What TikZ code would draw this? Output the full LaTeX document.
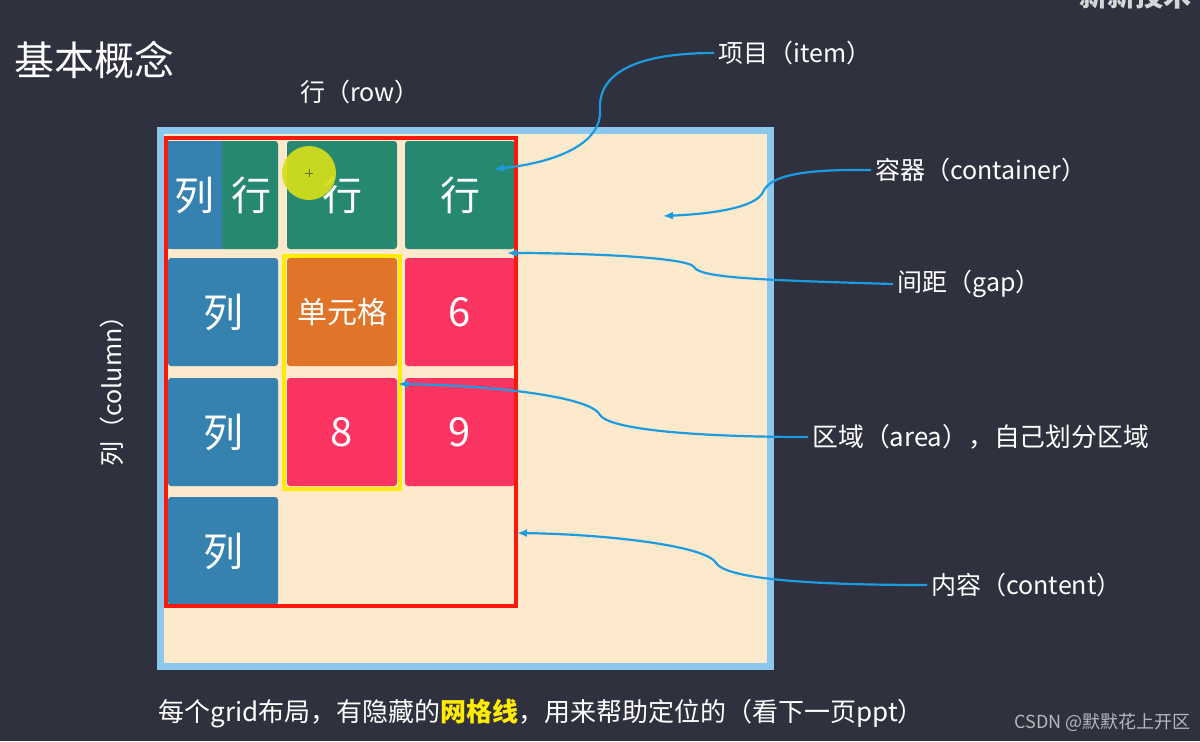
\documentclass[tikz,border=0pt]{standalone}
\usepackage{fontspec}
\setmainfont{Noto Sans CJK SC}
\usetikzlibrary{arrows.meta}

\definecolor{slide}{RGB}{47,49,62}
\definecolor{colblue}{RGB}{53,129,176}
\definecolor{rowgreen}{RGB}{39,136,114}
\definecolor{cellorange}{RGB}{224,116,40}
\definecolor{cellpink}{RGB}{252,52,98}
\definecolor{peach}{RGB}{253,233,204}
\definecolor{frameblue}{RGB}{140,200,238}
\definecolor{contentred}{RGB}{250,25,10}
\definecolor{areayellow}{RGB}{255,236,0}
\definecolor{arrowblue}{RGB}{28,156,224}
\definecolor{pointer}{RGB}{214,222,24}

\begin{document}
\begin{tikzpicture}[
  x=.5pt,
  y=-.5pt,
  grid cell/.style={
    minimum width=55pt,
    minimum height=54pt,
    inner sep=0pt,
    rounded corners=1.5pt,
    text=white,
    font=\fontsize{20pt}{20pt}\selectfont
  },
  cell text/.style={
    inner sep=0pt,
    text=white,
    font=\fontsize{20pt}{20pt}\selectfont
  },
  callout/.style={
    anchor=west,
    inner sep=2pt,
    text=white,
    font=\fontsize{12.5pt}{14pt}\selectfont
  },
  callout arrow/.style={
    draw=arrowblue,
    line width=1.1pt,
    -{Latex[length=5pt,width=4pt]}
  },
]
\useasboundingbox (0,0) rectangle (1200,741);
\fill[slide] (0,0) rectangle (1200,741);
\begin{scope}
\clip (0,0) rectangle (1200,741);
\node[anchor=base west, text=white!80!slide, font=\fontsize{14pt}{14pt}\bfseries] (brand) at (1072,6) {新新技术};
\end{scope}

\node[anchor=west, inner sep=0pt, text=white, font=\fontsize{20pt}{22pt}\selectfont] (title) at (14,60) {基本概念};
\node[callout, anchor=center] (rowlabel) at (360,92) {行（row）};
\node[callout, anchor=center, rotate=90] (collabel) at (112,385) {列（column）};

\draw[frameblue, line width=3.5pt, fill=peach] (160.5,130.5) rectangle (770.5,666.5);

\node[grid cell, fill=rowgreen] (c11) at (223,195) {};
\fill[colblue] (c11.north west) rectangle (222,249);
\node[cell text] (c11l) at (194,195) {列};
\node[cell text] (c11r) at (251,195) {行};
\node[grid cell, fill=rowgreen] (c12) at (342,195) {行};
\node[grid cell, fill=rowgreen] (c13) at (460,195) {行};
\node[grid cell, fill=colblue] (c21) at (223,312) {列};
\node[grid cell, fill=cellorange, font=\fontsize{15pt}{15pt}\selectfont] (c22) at (342,312) {单元格};
\node[grid cell, fill=cellpink] (c23) at (460,312) {6};
\node[grid cell, fill=colblue] (c31) at (223,432) {列};
\node[grid cell, fill=cellpink] (c32) at (342,432) {8};
\node[grid cell, fill=cellpink] (c33) at (460,432) {9};
\node[grid cell, fill=colblue] (c41) at (223,551) {列};

\draw[areayellow, line width=2pt] (284,256) rectangle (400,489);
\draw[contentred, line width=2pt] (166,138) rectangle (516,606);

\fill[pointer, opacity=.92] (309,173) circle (27);
\draw[pointer!50!black, line width=.3pt] (305,173) -- (313,173) (309,169) -- (309,177);

\coordinate (item tip) at (494,169);
\coordinate (container tip) at (663,216);
\coordinate (gap tip) at (507,253);
\coordinate (area tip) at (398,384);
\coordinate (content tip) at (517,533);

\node[callout] (item) at (714,53) {项目（item）};
\node[callout] (container) at (871,170) {容器（container）};
\node[callout] (gap) at (893,284) {间距（gap）};
\node[callout, font=\fontsize{12.9pt}{14pt}\selectfont] (area) at (808,437) {区域（area），自己划分区域};
\node[callout] (content) at (927,585) {内容（content）};

\draw[callout arrow] (item.west) .. controls (620,53) and (598,82) .. (600,110) .. controls (602,142) and (560,162) .. (item tip);
\draw[callout arrow] (container.west) .. controls (800,169) and (770,176) .. (763,192) .. controls (756,208) and (710,214) .. (container tip);
\draw[callout arrow] (gap.west) .. controls (760,280) and (700,278) .. (694,267) .. controls (688,257) and (580,253) .. (gap tip);
\draw[callout arrow] (area.west) .. controls (700,437) and (610,430) .. (600,415) .. controls (590,395) and (480,385) .. (area tip);
\draw[callout arrow] (content.west) .. controls (800,585) and (726,578) .. (716,563) .. controls (706,545) and (600,534) .. (content tip);

\node[callout, font=\fontsize{13pt}{14pt}\selectfont] (note) at (154,714) {每个grid布局，有隐藏的\textcolor{areayellow}{\bfseries 网格线}，用来帮助定位的（看下一页ppt）};
\node[anchor=west, inner sep=0pt, text=white!65!slide, font=\fontsize{9pt}{9pt}\selectfont] (mark) at (1014,722) {CSDN @默默花上开区};
\end{tikzpicture}
\end{document}
